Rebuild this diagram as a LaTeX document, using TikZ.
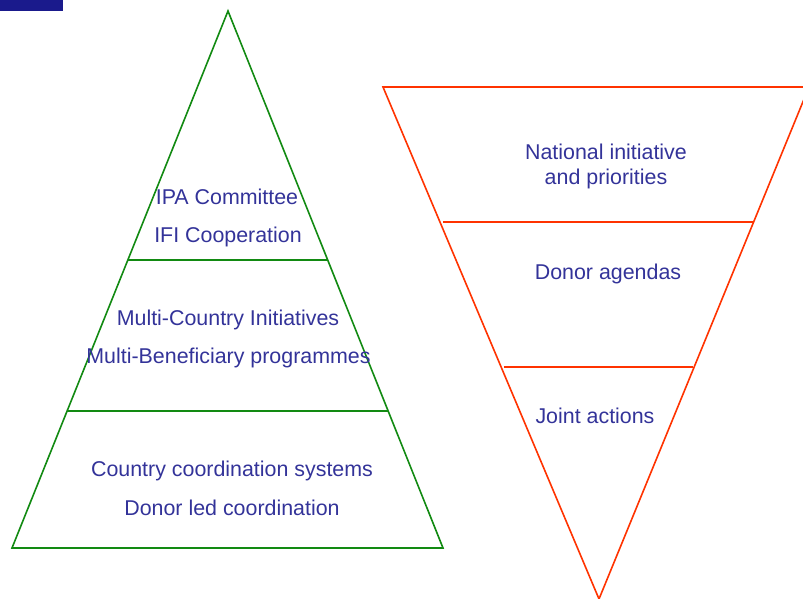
\documentclass[tikz,border=0pt]{standalone}
\usepackage{fontspec}
\setmainfont{Liberation Sans}
\definecolor{hdrblue}{HTML}{1A1A8C}
\definecolor{txtblue}{HTML}{333399}
\definecolor{pyrgreen}{HTML}{128A12}
\definecolor{pyrred}{HTML}{FF3300}
\begin{document}
\begin{tikzpicture}[x=1pt,y=-1pt,
  lbl/.style={anchor=base, inner sep=0pt, text=txtblue, font=\fontsize{21.4}{25}\selectfont},
  gline/.style={draw=pyrgreen, line width=1.6pt},
  rline/.style={draw=pyrred, line width=1.6pt}]
\useasboundingbox (0,0) rectangle (803,599);
\fill[hdrblue] (0,0) rectangle (63,11);
% left pyramid
\coordinate (la) at (228,11);
\coordinate (lb) at (12,548);
\coordinate (lc) at (443,548);
\draw[gline, line join=miter] (la) -- (lb) -- (lc) -- cycle;
\coordinate (l1a) at (128,260);
\coordinate (l1b) at (327,260);
\coordinate (l2a) at (67,411);
\coordinate (l2b) at (388,411);
\draw[gline] (l1a) -- (l1b);
\draw[gline] (l2a) -- (l2b);
\node[lbl] (t1) at (227,204) {IPA Committee};
\node[lbl] (t2) at (228,242) {IFI Cooperation};
\node[lbl] (t3) at (228,325) {Multi-Country Initiatives};
\node[lbl] (t4) at (228.5,363) {Multi-Beneficiary programmes};
\node[lbl] (t5) at (232,476) {Country coordination systems};
\node[lbl] (t6) at (232,515) {Donor led coordination};
% right inverted pyramid
\begin{scope}
\clip (0,0) rectangle (803,599);
\coordinate (ra) at (383,87);
\coordinate (rb) at (809,87);
\coordinate (rc) at (599,599);
\draw[rline] (ra) -- (rb) -- (rc) -- cycle;
\end{scope}
\coordinate (r1a) at (443,222);
\coordinate (r1b) at (753,222);
\coordinate (r2a) at (504,367);
\coordinate (r2b) at (693,367);
\draw[rline] (r1a) -- (r1b);
\draw[rline] (r2a) -- (r2b);
\node[lbl] (s1) at (606,159) {National initiative};
\node[lbl] (s2) at (606,184) {and priorities};
\node[lbl] (s3) at (608,279) {Donor agendas};
\node[lbl] (s4) at (595,423) {Joint actions};
\end{tikzpicture}
\end{document}
